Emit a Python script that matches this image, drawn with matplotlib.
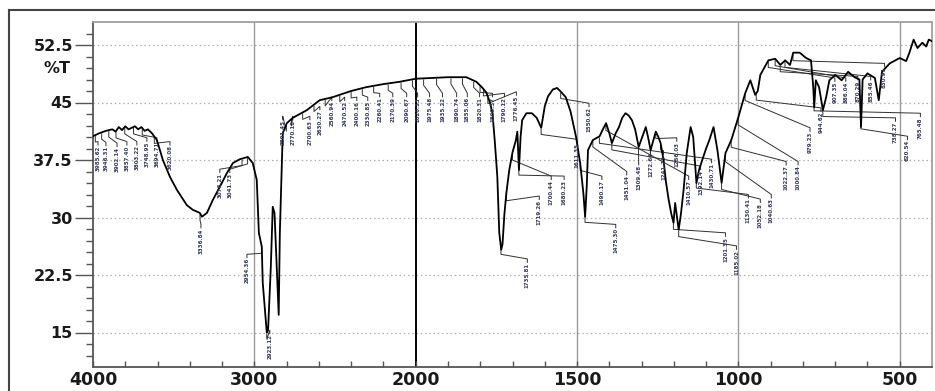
import numpy as np
import matplotlib.pyplot as plt
from matplotlib.lines import Line2D

# FTIR spectrum, wavenumber (cm-1) vs transmittance (%T)
wavenumber = [4000, 3960, 3920, 3880, 3860, 3840, 3820, 3800, 3780, 3760, 3740, 3720,
              3700, 3680, 3660, 3635, 3604, 3567, 3523, 3480, 3418, 3381, 3338, 3325,
              3294, 3257, 3214, 3170, 3133, 3090, 3040, 3010, 2985, 2972, 2954, 2948,
              2923, 2915, 2898, 2886, 2875, 2861, 2849, 2842, 2824, 2799, 2762, 2675,
              2595, 2514, 2400, 2307, 2200, 2100, 2000, 1948, 1900, 1843, 1812, 1795,
              1781, 1770, 1762, 1755, 1747, 1741, 1735, 1731, 1725, 1719, 1710, 1700,
              1690, 1685, 1680, 1675, 1670, 1657, 1640, 1625, 1611, 1600, 1590, 1575,
              1562, 1550, 1535, 1520, 1503, 1490, 1480, 1475, 1470, 1466, 1451, 1430,
              1420, 1410, 1400, 1392, 1380, 1370, 1360, 1350, 1340, 1330, 1320, 1309,
              1298, 1287, 1280, 1272, 1264, 1256, 1248, 1241, 1232, 1224, 1216, 1208,
              1201, 1196, 1190, 1185, 1178, 1170, 1160, 1148, 1140, 1135, 1130, 1122,
              1112, 1100, 1090, 1077, 1065, 1052, 1040, 1022, 1000, 979, 963, 948,
              940, 932, 907, 886, 870, 855, 840, 830, 810, 790, 775, 768,
              765, 760, 750, 738, 728, 718, 700, 680, 660, 640, 625, 620,
              615, 600, 577, 565, 555, 531, 500, 480, 470, 457, 445, 430,
              418, 410, 400]
transmittance = [40.6, 41.0, 41.3, 41.5, 41.2, 41.8, 41.4, 41.9, 41.5, 41.7, 41.9, 41.5,
                 41.8, 41.3, 41.5, 41.0, 40.1, 37.5, 35.3, 33.6, 31.6, 31.0, 30.6, 30.1,
                 30.6, 32.3, 34.0, 35.8, 37.1, 37.6, 37.9, 37.1, 34.9, 28.0, 26.2, 21.5,
                 15.0, 15.3, 23.5, 31.4, 30.6, 23.5, 17.3, 28.0, 41.0, 42.3, 43.0, 44.0,
                 45.3, 45.7, 46.5, 47.0, 47.4, 47.7, 48.1, 48.2, 48.3, 48.3, 47.7, 47.0,
                 46.3, 45.0, 43.6, 40.0, 35.3, 28.0, 25.8, 26.5, 30.5, 33.2, 36.2, 38.5,
                 40.0, 41.2, 36.2, 40.5, 42.7, 43.6, 43.6, 43.0, 41.7, 44.5, 45.8, 46.7,
                 46.9, 46.4, 45.7, 43.8, 40.5, 37.0, 33.0, 30.1, 34.0, 38.8, 40.1, 40.6,
                 41.5, 42.3, 41.0, 39.7, 41.0, 41.8, 43.0, 43.6, 43.3, 42.7, 41.5, 39.2,
                 40.5, 41.8, 40.5, 38.8, 40.0, 41.2, 40.5, 39.7, 37.5, 34.5, 32.3, 30.5,
                 29.3, 31.9, 30.0, 28.4, 30.5, 33.5, 38.4, 41.8, 40.5, 37.5, 34.5, 36.2,
                 37.5, 39.0, 40.1, 41.8, 38.8, 34.5, 38.4, 40.1, 43.1, 46.2, 47.9, 46.0,
                 46.5, 48.6, 50.5, 50.7, 49.9, 50.5, 49.9, 51.5, 51.5, 50.8, 50.5, 47.0,
                 44.4, 47.9, 47.0, 44.0, 45.7, 47.9, 48.6, 47.9, 49.0, 48.3, 48.0, 41.8,
                 48.0, 48.8, 48.2, 45.3, 49.0, 50.1, 50.8, 50.4, 51.5, 53.2, 52.1, 52.8,
                 52.3, 53.2, 53.0]

# picked peaks (cm-1)
peak_wn = [3985.62, 3946.31, 3902.14, 3857.40, 3803.22, 3748.95, 3694.71, 3620.08,
           3336.84, 3076.21, 3041.73, 2954.36, 2923.12,
           2801.45, 2770.18, 2700.63, 2630.27, 2560.94, 2470.52, 2400.16, 2330.85,
           2260.41, 2170.39, 2090.67, 2020.13, 1975.48, 1935.22, 1890.74, 1855.06,
           1820.31, 1800.57, 1790.12, 1776.45,
           1735.81, 1719.26, 1700.44, 1680.23, 1611.35, 1550.62, 1490.17, 1475.30,
           1451.04, 1309.48, 1272.66, 1241.25, 1256.03, 1410.57, 1392.14, 1430.71,
           1201.35, 1185.02, 1130.41, 1052.18, 1040.63, 1022.37, 1000.84, 979.23,
           944.62, 907.35, 886.04, 870.29, 855.46, 830.91, 738.27, 620.54, 765.48]

# callout layout: label x (cm-1) and top of the label (%T)
label_wn = [3969, 3920, 3851, 3790, 3728, 3666, 3604, 3523,
            3331, 3214, 3152, 3046, 2904,
            2824, 2762, 2656, 2594, 2520, 2440, 2365, 2297,
            2223, 2142, 2056, 1994, 1957, 1917, 1873, 1840,
            1802, 1762, 1725, 1688,
            1654, 1617, 1580, 1540, 1500, 1463, 1423, 1380,
            1346, 1309, 1272, 1232, 1191, 1154, 1117, 1083,
            1040, 1006, 969, 932, 898, 852, 815, 778,
            744, 701, 667, 630, 590, 547, 513, 476, 436]
label_top = [39.4, 39.3, 39.2, 39.4, 39.4, 39.9, 39.9, 39.4,
             28.6, 35.8, 35.8, 24.7, 14.8,
             42.7, 42.7, 42.7, 44.0, 45.2, 45.2, 45.2, 45.2,
             45.7, 45.7, 45.7, 45.7, 45.7, 45.7, 45.7, 45.7,
             45.7, 45.7, 45.7, 45.9,
             24.1, 32.3, 34.9, 34.9, 39.7, 44.4, 34.9, 28.6,
             35.5, 36.8, 38.5, 38.2, 39.9, 34.9, 36.2, 37.1,
             27.5, 25.8, 32.5, 31.9, 32.5, 36.8, 36.8, 41.2,
             43.8, 47.7, 47.7, 47.9, 47.9, 49.6, 42.5, 40.1, 43.1]

x_major = [4000, 3000, 2000, 1500, 1000, 500]
y_major = [15, 22.5, 30, 37.5, 45, 52.5]


# scale halves below 2000 cm-1 (expanded fingerprint region)
def fwd(x):
    x = np.asarray(x, dtype=float)
    return np.where(x >= 2000, x, 2 * x - 2000)


def inv(y):
    y = np.asarray(y, dtype=float)
    return np.where(y >= 2000, y, (y + 2000) / 2)


fig = plt.figure(figsize=(9.35, 3.91), dpi=100)
ax = fig.add_axes([93 / 935, 1 - 367 / 391, 839 / 935, 345 / 391])
ax.set_xscale('function', functions=(fwd, inv))
ax.set_xlim(4000, 400)
ax.set_ylim(10.5, 55.5)

# grid
for v in y_major:
    ax.axhline(v, color='#b0b0b0', lw=0.9, ls=(0, (1.2, 2.2)), zorder=0)
for v in [3000, 1500, 1000, 500]:
    ax.axvline(v, color='#9a9a9a', lw=1.0, zorder=0)
ax.axvline(2000, color='black', lw=1.4, zorder=1)

wn = np.array(wavenumber)
tr = np.array(transmittance)
ax.plot(wn, tr, color='black', lw=1.3, zorder=3)

# peak callouts
for pw, lw_, top in zip(peak_wn, label_wn, label_top):
    pt = np.interp(pw, wn[::-1], tr[::-1])
    ax.plot([pw, pw, lw_, lw_], [pt - 0.2, pt - 0.9, top + 0.5, top + 0.05],
            color='#303030', lw=0.7, zorder=2)
    ax.text(lw_, top, f'{pw:.2f}', rotation=90, ha='center', va='top',
            fontsize=4.0, fontweight='bold', color='#353a58', zorder=4,
            clip_on=True)

# ticks
minor_x = [v for v in list(range(3800, 2000, -200)) + list(range(1900, 400, -100))
           if v not in x_major]
ax.set_xticks(x_major)
ax.set_xticklabels([str(v) for v in x_major])
ax.set_xticks(minor_x, minor=True)
ax.set_yticks(y_major)
ax.set_yticklabels(['15', '22.5', '30', '37.5', '45', '52.5'])
ax.set_yticks(np.arange(12.0, 55.5, 1.5), minor=True)

ax.tick_params(axis='x', which='both', direction='in', length=4, width=1,
               color='#555555', pad=3, labelsize=12.5, labelcolor='#1a1a1a')
ax.tick_params(axis='y', which='major', direction='out', length=13, width=1,
               color='#555555', pad=1.5, labelsize=11.5, labelcolor='#1a1a1a')
ax.tick_params(axis='y', which='minor', direction='out', length=5, width=1,
               color='#555555')
for lab in ax.get_xticklabels() + ax.get_yticklabels():
    lab.set_fontweight('bold')

ax.text(-0.027, 49.5, '%T', transform=ax.get_yaxis_transform(), ha='right',
        va='center', fontsize=11.5, fontweight='bold', color='#1a1a1a')

ax.spines['left'].set_color('#555555')
ax.spines['bottom'].set_color('#555555')
ax.spines['top'].set_color('#a0a0a0')
ax.spines['right'].set_color('#a0a0a0')
for s in ax.spines.values():
    s.set_linewidth(1.3)

# outer frame of the figure panel
fig.add_artist(Line2D([9 / 935, 9 / 935], [0, 1 - 10 / 391], color='#444444', lw=1.5))
fig.add_artist(Line2D([9 / 935, 1], [1 - 10 / 391, 1 - 10 / 391], color='#444444', lw=1.5))

fig.savefig('out.png', dpi=100)
